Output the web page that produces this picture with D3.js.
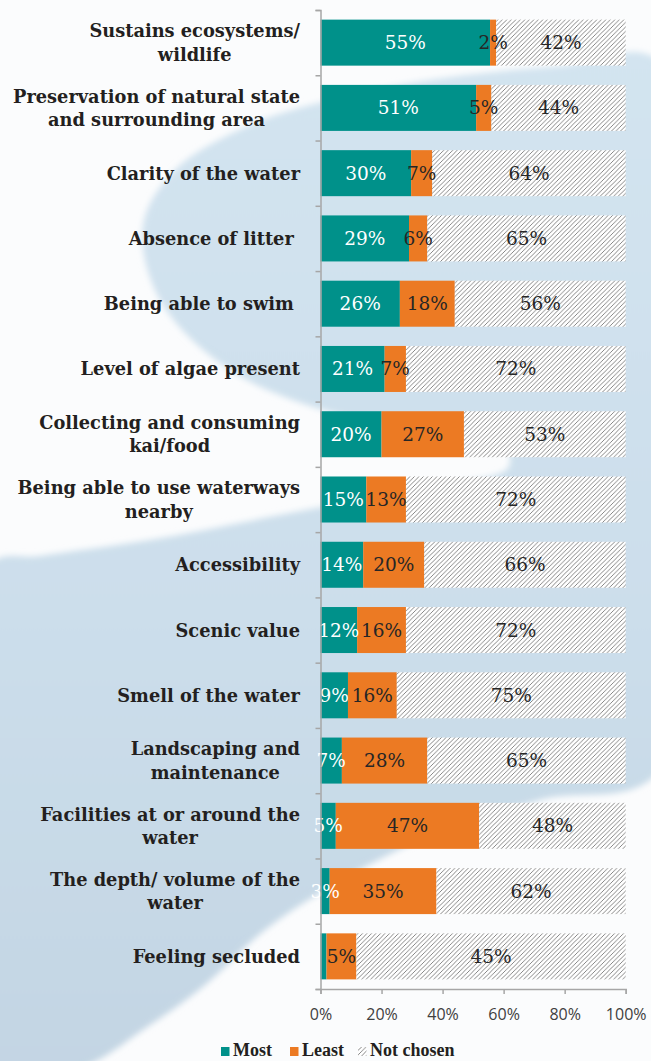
<!DOCTYPE html>
<html>
<head>
<meta charset="utf-8">
<script src="https://cdn.jsdelivr.net/npm/d3@7"></script>
<style>
  html, body { margin: 0; padding: 0; background: #fbfcfd; }
  svg { display: block; }
  .cat { font-family: "DejaVu Serif", serif; font-weight: bold; font-size: 17.8px; fill: #231f20; white-space: pre; }
  .val { font-family: "DejaVu Serif", serif; font-size: 18.5px; }
  .tick text { font-family: "Open Sans", sans-serif; font-size: 16px; fill: #404040; }
  .legend text { font-family: "Liberation Serif", serif; font-weight: bold; font-size: 18px; fill: #231f20; }
</style>
</head>
<body>
<script>
// Survey: which attributes of a waterway matter most / least
const categories = [
  "Sustains ecosystems/\nwildlife",
  "Preservation of natural state\nand surrounding area",
  "Clarity of the water",
  "Absence of litter ",
  "Being able to swim ",
  "Level of algae present",
  "Collecting and consuming\nkai/food",
  "Being able to use waterways\nnearby",
  "Accessibility",
  "Scenic value",
  "Smell of the water",
  "Landscaping and\nmaintenance",
  "Facilities at or around the\nwater",
  "The depth/ volume of the\nwater",
  "Feeling secluded"
];
const most      = [55, 51, 30, 29, 26, 21, 20, 15, 14, 12,  9,  7,  5,  3, 1];
const least     = [ 2,  5,  7,  6, 18,  7, 27, 13, 20, 16, 16, 28, 47, 35, 5];
const notChosen = [42, 44, 64, 65, 56, 72, 53, 72, 66, 72, 75, 65, 48, 62, 45];
const seriesNames = ["Most", "Least", "Not chosen"];
const xTickValues = [0, 0.2, 0.4, 0.6, 0.8, 1];

const W = 651, H = 1061;
const colors = { "Most": "#00918a", "Least": "#ec7a23", "Not chosen": "url(#hatch)" };
const labelColors = { "Most": "#ffffff", "Least": "#262626", "Not chosen": "#262626" };

const rows = categories.map((c, i) => ({
  category: c, "Most": most[i], "Least": least[i], "Not chosen": notChosen[i]
}));

const svg = d3.select("body").append("svg").attr("width", W).attr("height", H);
const defs = svg.append("defs");

// diagonal hatch for the "Not chosen" segments
const pat = defs.append("pattern").attr("id", "hatch")
  .attr("patternUnits", "userSpaceOnUse").attr("width", 4.5).attr("height", 4.5);
pat.append("rect").attr("width", 4.5).attr("height", 4.5).attr("fill", "#ffffff");
pat.append("path").attr("d", "M-1,1 L1,-1 M0,4.5 L4.5,0 M3.5,5.5 L5.5,3.5")
  .attr("stroke", "#7a7a7a").attr("stroke-width", 0.9);

// soft watercolour backdrop
const grad = defs.append("linearGradient").attr("id", "bgGrad")
  .attr("x1", 0).attr("y1", 0).attr("x2", 0).attr("y2", 1);
grad.append("stop").attr("offset", "0%").attr("stop-color", "#d3e4f0");
grad.append("stop").attr("offset", "55%").attr("stop-color", "#ccdeeb");
grad.append("stop").attr("offset", "100%").attr("stop-color", "#c3d5e3");
defs.append("filter").attr("id", "soft").attr("x", "-5%").attr("y", "-5%")
  .attr("width", "110%").attr("height", "110%")
  .append("feGaussianBlur").attr("stdDeviation", 3);

const bgShape = [
  [660, 62], [560, 66], [430, 80], [330, 100], [250, 125], [175, 170], [143, 225],
  [160, 300], [230, 370], [340, 415], [460, 435], [506, 448], [508, 468],
  [420, 488], [290, 513], [150, 540], [40, 556], [-10, 565],
  [-10, 1070], [75, 1070], [150, 1025], [205, 985], [265, 930], [325, 890],
  [420, 840], [540, 800], [660, 770]
];
svg.append("path")
  .attr("d", d3.line().curve(d3.curveCatmullRomClosed.alpha(0.5))(bgShape))
  .attr("fill", "url(#bgGrad)")
  .attr("filter", "url(#soft)");

// scales
const x = d3.scaleLinear().domain([0, 1]).range([320.5, 625.7]);
const y = d3.scaleBand().domain(categories).range([10, 989])
  .paddingInner(0.295).paddingOuter(0.1475);
const yEdges = d3.scaleLinear().domain([0, categories.length]).range([10, 989]);

// 100% stacked series
const stacked = d3.stack().keys(seriesNames).offset(d3.stackOffsetExpand)(rows);

const gSeries = svg.append("g").selectAll("g").data(stacked).join("g")
  .attr("fill", d => colors[d.key]);
gSeries.selectAll("rect").data(d => d).join("rect")
  .attr("x", d => x(d[0]))
  .attr("y", d => y(d.data.category))
  .attr("width", d => x(d[1]) - x(d[0]))
  .attr("height", y.bandwidth());

// value labels
stacked.forEach(s => {
  svg.append("g").selectAll("text")
    .data(s.filter(d => d.data[s.key] >= 2))
    .join("text")
    .attr("class", "val")
    .attr("x", d => (x(d[0]) + x(d[1])) / 2)
    .attr("y", d => y(d.data.category) + y.bandwidth() / 2 + 6.5)
    .attr("text-anchor", "middle")
    .attr("fill", labelColors[s.key])
    .text(d => d.data[s.key] + "%");
});

// axes
const axisColor = "#a6a6a6";
const yAxis = svg.append("g").attr("transform", `translate(${x(0)},0)`)
  .call(d3.axisLeft(yEdges).ticks(categories.length).tickSize(5).tickFormat(""));
const xAxis = svg.append("g").attr("transform", `translate(0,${yEdges(categories.length)})`)
  .call(d3.axisBottom(x).tickValues(xTickValues).tickSize(5).tickPadding(15)
    .tickFormat(d3.format(".0%")));
[yAxis, xAxis].forEach(a => {
  a.select(".domain").attr("stroke", axisColor).attr("stroke-width", 1.5);
  a.selectAll(".tick line").attr("stroke", axisColor).attr("stroke-width", 1.5);
});
xAxis.selectAll(".tick text").attr("fill", "#404040");

// category labels, wrapped lines centred within a right-aligned block
const labelRight = 300;
categories.forEach(c => {
  const lines = c.split("\n");
  const cy = y(c) + y.bandwidth() / 2;
  const lh = 23.5;
  const t = svg.append("text").attr("class", "cat").attr("text-anchor", "middle");
  const spans = lines.map((ln, i) => t.append("tspan").text(ln)
    .attr("y", cy + 6.5 + (i - (lines.length - 1) / 2) * lh));
  const maxW = d3.max(spans, s => s.node().getComputedTextLength());
  spans.forEach(s => s.attr("x", labelRight - maxW / 2));
});

// legend
const legendItems = [
  { key: "Most", x: 221 }, { key: "Least", x: 290 }, { key: "Not chosen", x: 358 }
];
const lg = svg.append("g").attr("class", "legend");
legendItems.forEach(it => {
  lg.append("rect").attr("x", it.x).attr("y", 1047).attr("width", 8.5).attr("height", 9)
    .attr("fill", colors[it.key]);
  lg.append("text").attr("x", it.x + 12).attr("y", 1056).text(it.key);
});
</script>
</body>
</html>
